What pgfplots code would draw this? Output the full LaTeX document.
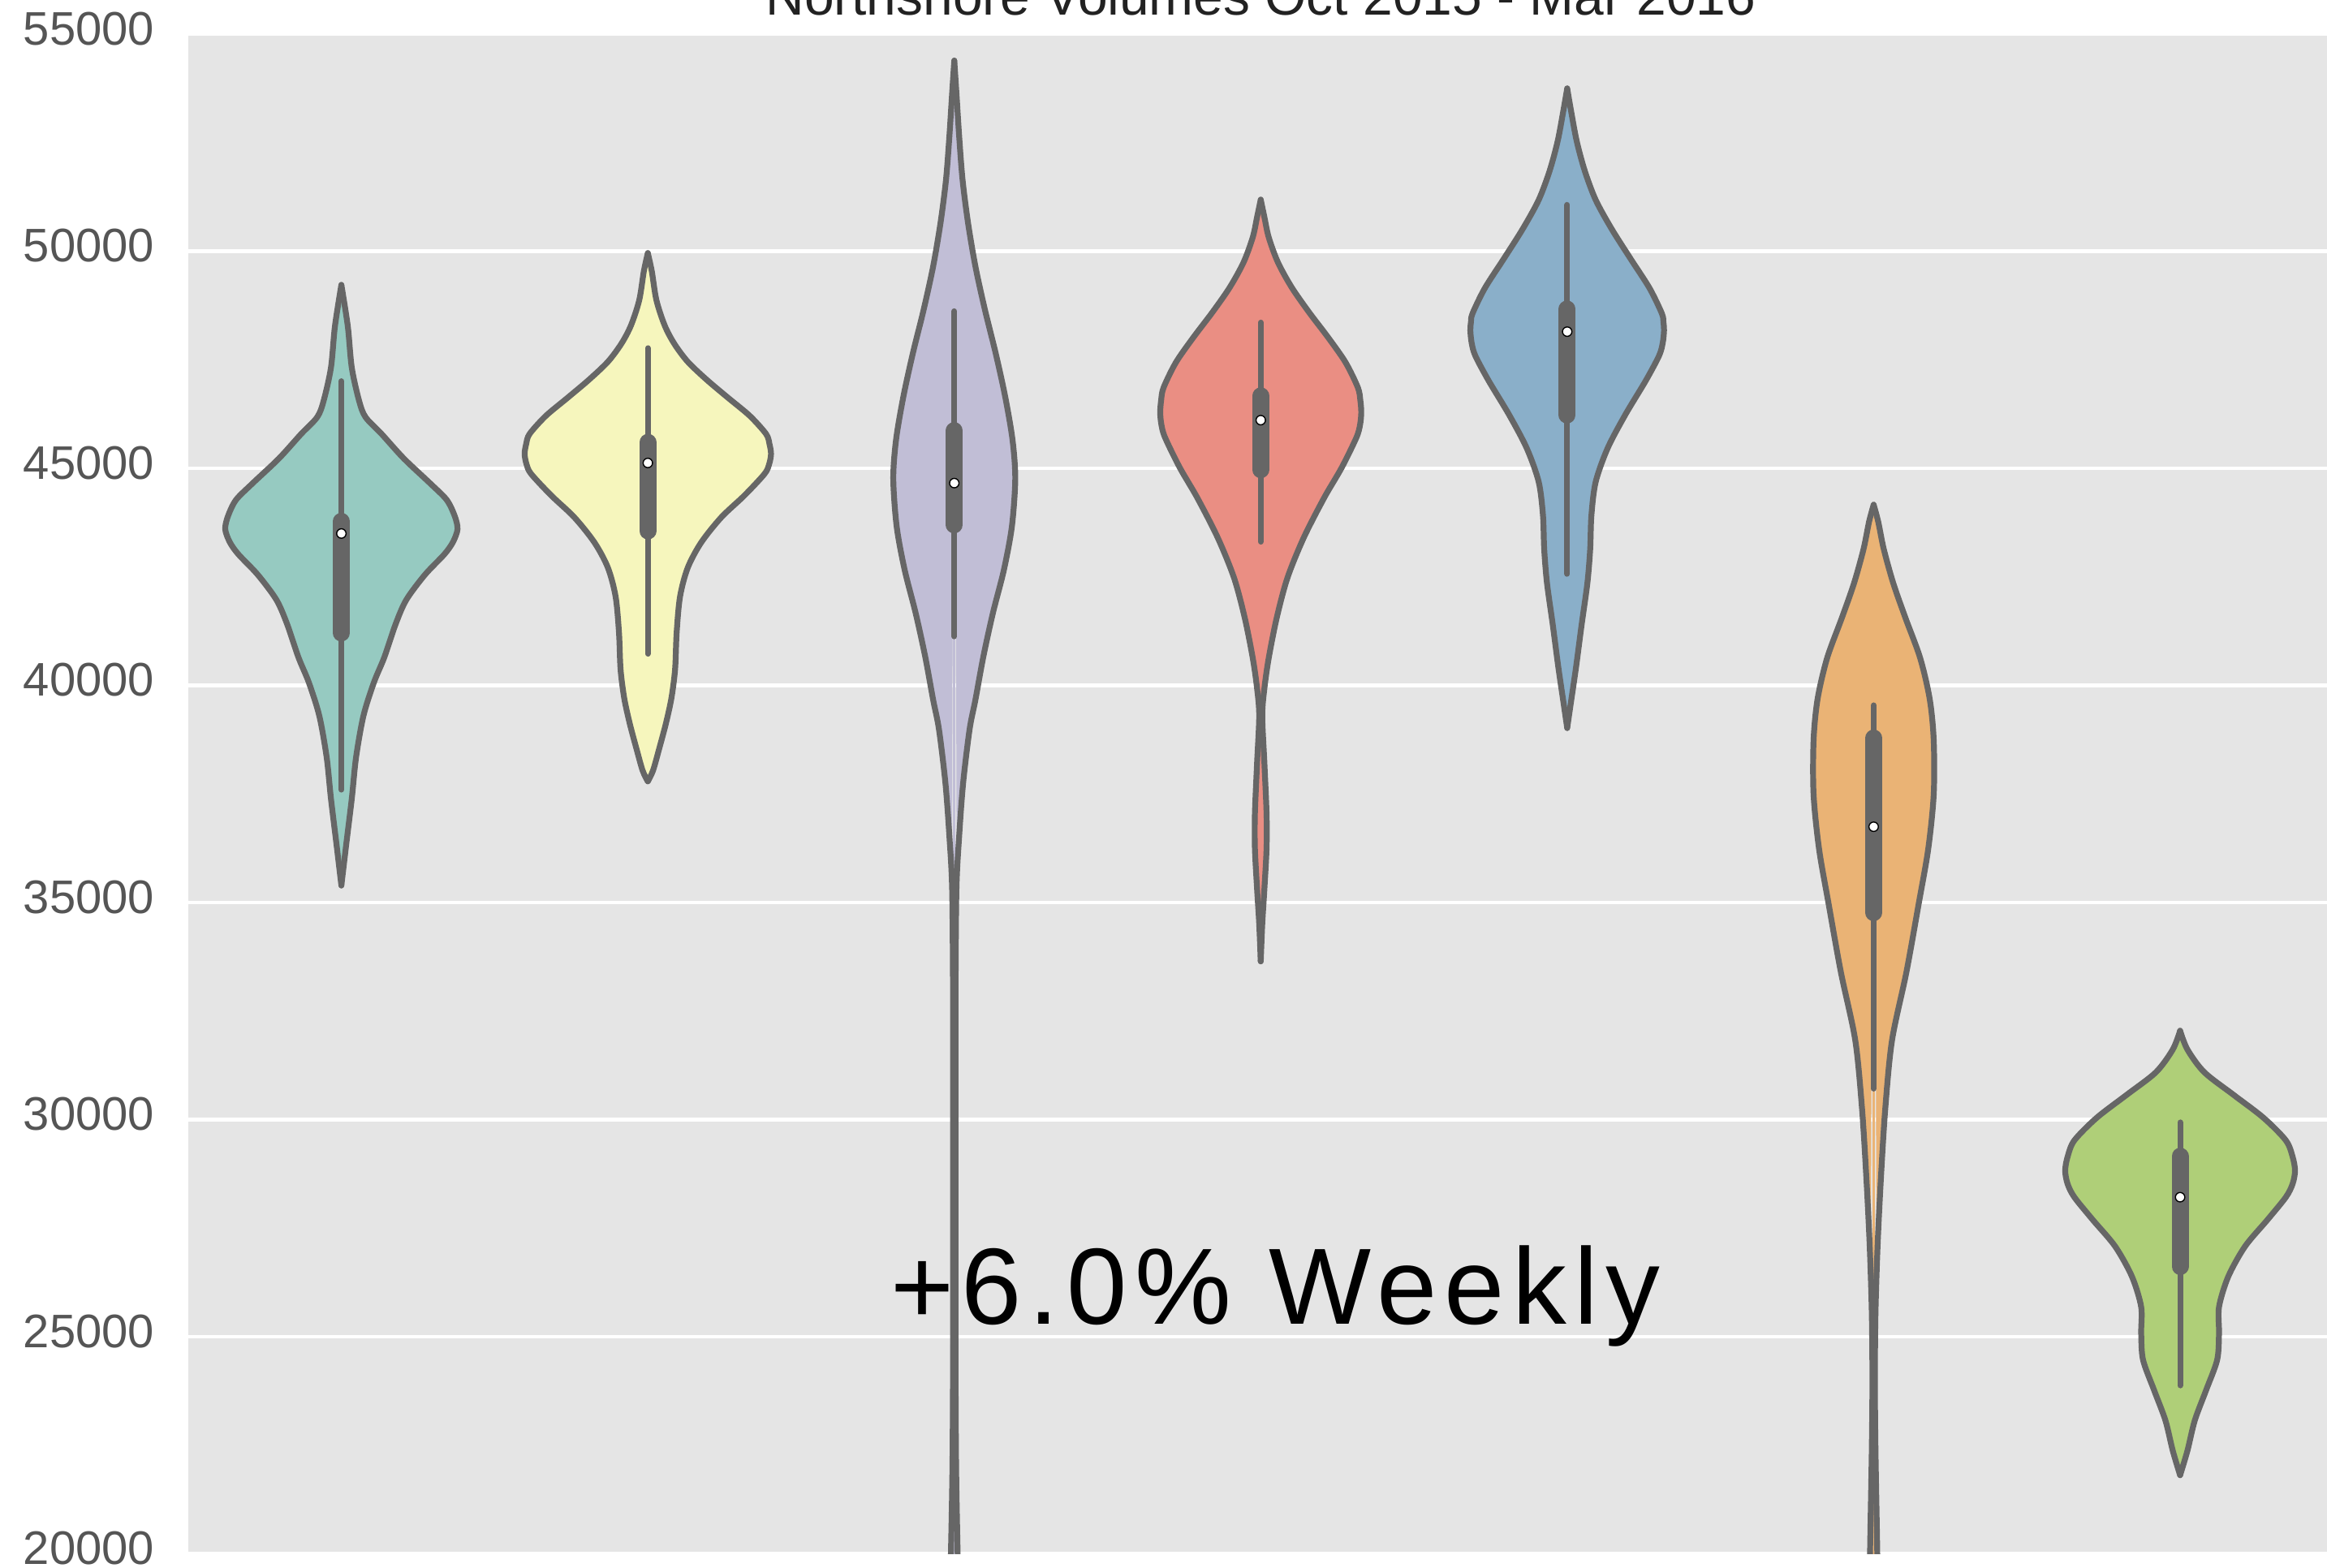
\documentclass[border=0pt]{standalone}
\usepackage{pgfplots}
\pgfplotsset{compat=1.18}
\usepgfplotslibrary{fillbetween}
\usepackage{pgfplotstable}
\usepackage{fontspec}
\setmainfont{Liberation Sans}
\newfontfamily\annofont[LetterSpace=7]{Liberation Sans}

\definecolor{bggray}{RGB}{229,229,229}
\definecolor{edge}{RGB}{102,102,102}
\definecolor{tickgray}{RGB}{85,85,85}
\definecolor{titlegray}{RGB}{34,34,34}
\definecolor{c1}{RGB}{150,202,193}
\definecolor{c2}{RGB}{246,246,189}
\definecolor{c3}{RGB}{193,190,214}
\definecolor{c4}{RGB}{234,142,131}
\definecolor{c5}{RGB}{138,175,201}
\definecolor{c6}{RGB}{234,179,117}
\definecolor{c7}{RGB}{175,207,120}

% violin outlines: value, half width (category units)
\pgfplotstableread{
y w
35395 0
36348 0.016
37395 0.034
38348 0.048
39301 0.072
40067 0.106
40647 0.140
41413 0.177
41974 0.212
42553 0.273
43021 0.336
43300 0.364
43600 0.379
43900 0.370
44273 0.344
44647 0.291
45226 0.204
45787 0.132
46179 0.079
46553 0.058
47319 0.034
48273 0.021
49226 0
}\vA
\pgfplotstableread{
y w
37792 0
38042 0.017
38542 0.037
39125 0.059
39708 0.077
40375 0.089
41208 0.094
42042 0.105
42708 0.130
43292 0.174
43875 0.240
44375 0.315
44875 0.381
45100 0.396
45333 0.402
45560 0.397
45792 0.386
46208 0.333
46625 0.262
47042 0.192
47458 0.130
47875 0.086
48292 0.055
48875 0.028
49540 0.013
49958 0
}\vB
\pgfplotstableread{
y w
19000 0.015
20000 0.011
22000 0.006
24500 0.004
28000 0.004
31000 0.004
32853 0.004
35307 0.007
36534 0.016
37761 0.029
38992 0.050
39671 0.069
40669 0.095
41667 0.126
42665 0.162
43663 0.188
44760 0.199
45659 0.190
46657 0.166
47655 0.135
48653 0.100
49651 0.069
50649 0.045
51647 0.027
52645 0.016
53643 0.007
54391 0
}\vC
\pgfplotstableread{
y w
33648 0
34514 0.005
35322 0.012
36245 0.019
37052 0.019
38206 0.012
39300 0.005
39937 0.012
40630 0.026
41553 0.052
42476 0.087
43399 0.140
44323 0.207
45015 0.264
45707 0.312
46000 0.324
46284 0.328
46570 0.325
46861 0.317
47438 0.277
48015 0.220
48592 0.158
49169 0.101
49746 0.056
50323 0.026
50785 0.012
51189 0
}\vD
\pgfplotstableread{
y w
39021 0
39651 0.013
40426 0.029
41395 0.047
42364 0.066
43139 0.075
43915 0.079
44690 0.093
45465 0.132
46240 0.190
47015 0.256
47597 0.300
47900 0.312
48178 0.316
48370 0.314
48566 0.309
49147 0.269
49826 0.207
50504 0.146
51182 0.093
51860 0.057
52539 0.031
53217 0.013
53750 0
}\vE
\pgfplotstableread{
y w
19000 0.014
20363 0.011
22405 0.006
23976 0.004
25547 0.006
27118 0.013
28689 0.024
30260 0.038
31831 0.060
33402 0.107
34973 0.147
36230 0.178
37486 0.196
38743 0.196
39686 0.183
40628 0.152
41571 0.103
42356 0.064
43142 0.033
43770 0.015
44163 0
}\vF
\pgfplotstableread{
y w
21813 0
22380 0.024
23077 0.048
23774 0.085
24471 0.121
25080 0.127
25689 0.127
26386 0.157
27084 0.212
27695 0.285
28216 0.345
28520 0.367
28827 0.375
29150 0.367
29525 0.345
30046 0.272
30570 0.175
31093 0.079
31616 0.024
32050 0
}\vG

\begin{document}
\begin{tikzpicture}
\begin{axis}[
    name=ax,
    scale only axis,
    width=26.43cm,
    height=18.726cm,
    xmin=-0.5, xmax=6.5,
    ymin=20000, ymax=55000,
    clip mode=individual,
    axis background/.style={fill=bggray},
    axis line style={draw=none},
    xtick=\empty,
    ytick={20000,25000,...,55000},
    scaled y ticks=false,
    ymajorgrids,
    major grid style={white, line width=0.045cm},
    major tick length=0pt,
    yticklabel style={
        /pgf/number format/1000 sep={},
        /pgf/number format/assume math mode=true,
        font=\fontsize{16.5}{20}\selectfont,
        text=tickgray, inner sep=0pt, xshift=-0.41cm, yshift=0.07cm},
    hidden/.style={draw=none, smooth},
    vfill/.style={fill=#1, draw=none},
    seam/.style={#1, line width=0.035cm},
    outline/.style={edge, line width=0.072cm, smooth, line cap=round, line join=round},
    whisk/.style={edge, line width=0.07cm, line cap=round},
    box/.style={edge, line width=0.21cm, line cap=round},
]

% fills
\addplot[hidden, name path=r1] table[x expr=0+\thisrow{w}, y=y]{\vA};
\addplot[hidden, name path=l1] table[x expr=0-\thisrow{w}, y=y]{\vA};
\addplot[vfill=c1] fill between[of=r1 and l1];
\addplot[hidden, name path=r2] table[x expr=1+\thisrow{w}, y=y]{\vB};
\addplot[hidden, name path=l2] table[x expr=1-\thisrow{w}, y=y]{\vB};
\addplot[vfill=c2] fill between[of=r2 and l2];
\addplot[hidden, name path=r3] table[x expr=2+\thisrow{w}, y=y]{\vC};
\addplot[hidden, name path=l3] table[x expr=2-\thisrow{w}, y=y]{\vC};
\addplot[vfill=c3] fill between[of=r3 and l3];
\addplot[hidden, name path=r4] table[x expr=3+\thisrow{w}, y=y]{\vD};
\addplot[hidden, name path=l4] table[x expr=3-\thisrow{w}, y=y]{\vD};
\addplot[vfill=c4] fill between[of=r4 and l4];
\addplot[hidden, name path=r5] table[x expr=4+\thisrow{w}, y=y]{\vE};
\addplot[hidden, name path=l5] table[x expr=4-\thisrow{w}, y=y]{\vE};
\addplot[vfill=c5] fill between[of=r5 and l5];
\addplot[hidden, name path=r6] table[x expr=5+\thisrow{w}, y=y]{\vF};
\addplot[hidden, name path=l6] table[x expr=5-\thisrow{w}, y=y]{\vF};
\addplot[vfill=c6] fill between[of=r6 and l6];
\addplot[hidden, name path=r7] table[x expr=6+\thisrow{w}, y=y]{\vG};
\addplot[hidden, name path=l7] table[x expr=6-\thisrow{w}, y=y]{\vG};
\addplot[vfill=c7] fill between[of=r7 and l7];

% cover the seam between the two filled halves
\addplot[seam=c1] coordinates {(0,35395) (0,49226)};
\addplot[seam=c2] coordinates {(1,37792) (1,49958)};
\addplot[seam=c3] coordinates {(2,19000) (2,54391)};
\addplot[seam=c4] coordinates {(3,33648) (3,51189)};
\addplot[seam=c5] coordinates {(4,39021) (4,53750)};
\addplot[seam=c6] coordinates {(5,19000) (5,44163)};
\addplot[seam=c7] coordinates {(6,21813) (6,32050)};

% outlines
\addplot[outline] table[x expr=0+\thisrow{w}, y=y]{\vA};
\addplot[outline] table[x expr=0-\thisrow{w}, y=y]{\vA};
\addplot[outline] table[x expr=1+\thisrow{w}, y=y]{\vB};
\addplot[outline] table[x expr=1-\thisrow{w}, y=y]{\vB};
\addplot[outline] table[x expr=2+\thisrow{w}, y=y]{\vC};
\addplot[outline] table[x expr=2-\thisrow{w}, y=y]{\vC};
\addplot[outline] table[x expr=3+\thisrow{w}, y=y]{\vD};
\addplot[outline] table[x expr=3-\thisrow{w}, y=y]{\vD};
\addplot[outline] table[x expr=4+\thisrow{w}, y=y]{\vE};
\addplot[outline] table[x expr=4-\thisrow{w}, y=y]{\vE};
\addplot[outline] table[x expr=5+\thisrow{w}, y=y]{\vF};
\addplot[outline] table[x expr=5-\thisrow{w}, y=y]{\vF};
\addplot[outline] table[x expr=6+\thisrow{w}, y=y]{\vG};
\addplot[outline] table[x expr=6-\thisrow{w}, y=y]{\vG};

% whiskers
\addplot[whisk] coordinates {(0,37600) (0,47010)};
\addplot[whisk] coordinates {(1,40730) (1,47770)};
\addplot[whisk] coordinates {(2,41130) (2,48620)};
\addplot[whisk] coordinates {(3,43310) (3,48360)};
\addplot[whisk] coordinates {(4,42570) (4,51070)};
\addplot[whisk] coordinates {(5,30715) (5,39545)};
\addplot[whisk] coordinates {(6,23880) (6,29940)};

% boxes (q1 - q3)
\addplot[box] coordinates {(0,41210) (0,43780)};
\addplot[box] coordinates {(1,43560) (1,45600)};
\addplot[box] coordinates {(2,43700) (2,45870)};
\addplot[box] coordinates {(3,44970) (3,46670)};
\addplot[box] coordinates {(4,46230) (4,48670)};
\addplot[box] coordinates {(5,34770) (5,38790)};
\addplot[box] coordinates {(6,26620) (6,29160)};

% medians
\addplot[only marks, mark=*, mark size=0.058cm, mark options={fill=white, draw=none}]
    coordinates {(0,43500) (1,45125) (2,44661) (3,46111) (4,48149) (5,36748) (6,28216)};

\node[anchor=base west, inner sep=0pt, font=\annofont\fontsize{38}{40}\selectfont]
    at (axis cs:1.79,25302) {+6.0\% Weekly};
\end{axis}
\node[anchor=base, inner sep=0pt, font=\fontsize{18.75}{22}\selectfont, text=titlegray]
    at ([yshift=0.24cm]ax.north) {Northshore Volumes Oct 2015 - Mar 2016};
\pgfresetboundingbox
\path[use as bounding box] ([shift={(-2.318cm,-0.163cm)}]ax.south west)
    rectangle ([shift={(26.352cm,19.147cm)}]ax.south west);
\end{tikzpicture}
\end{document}
